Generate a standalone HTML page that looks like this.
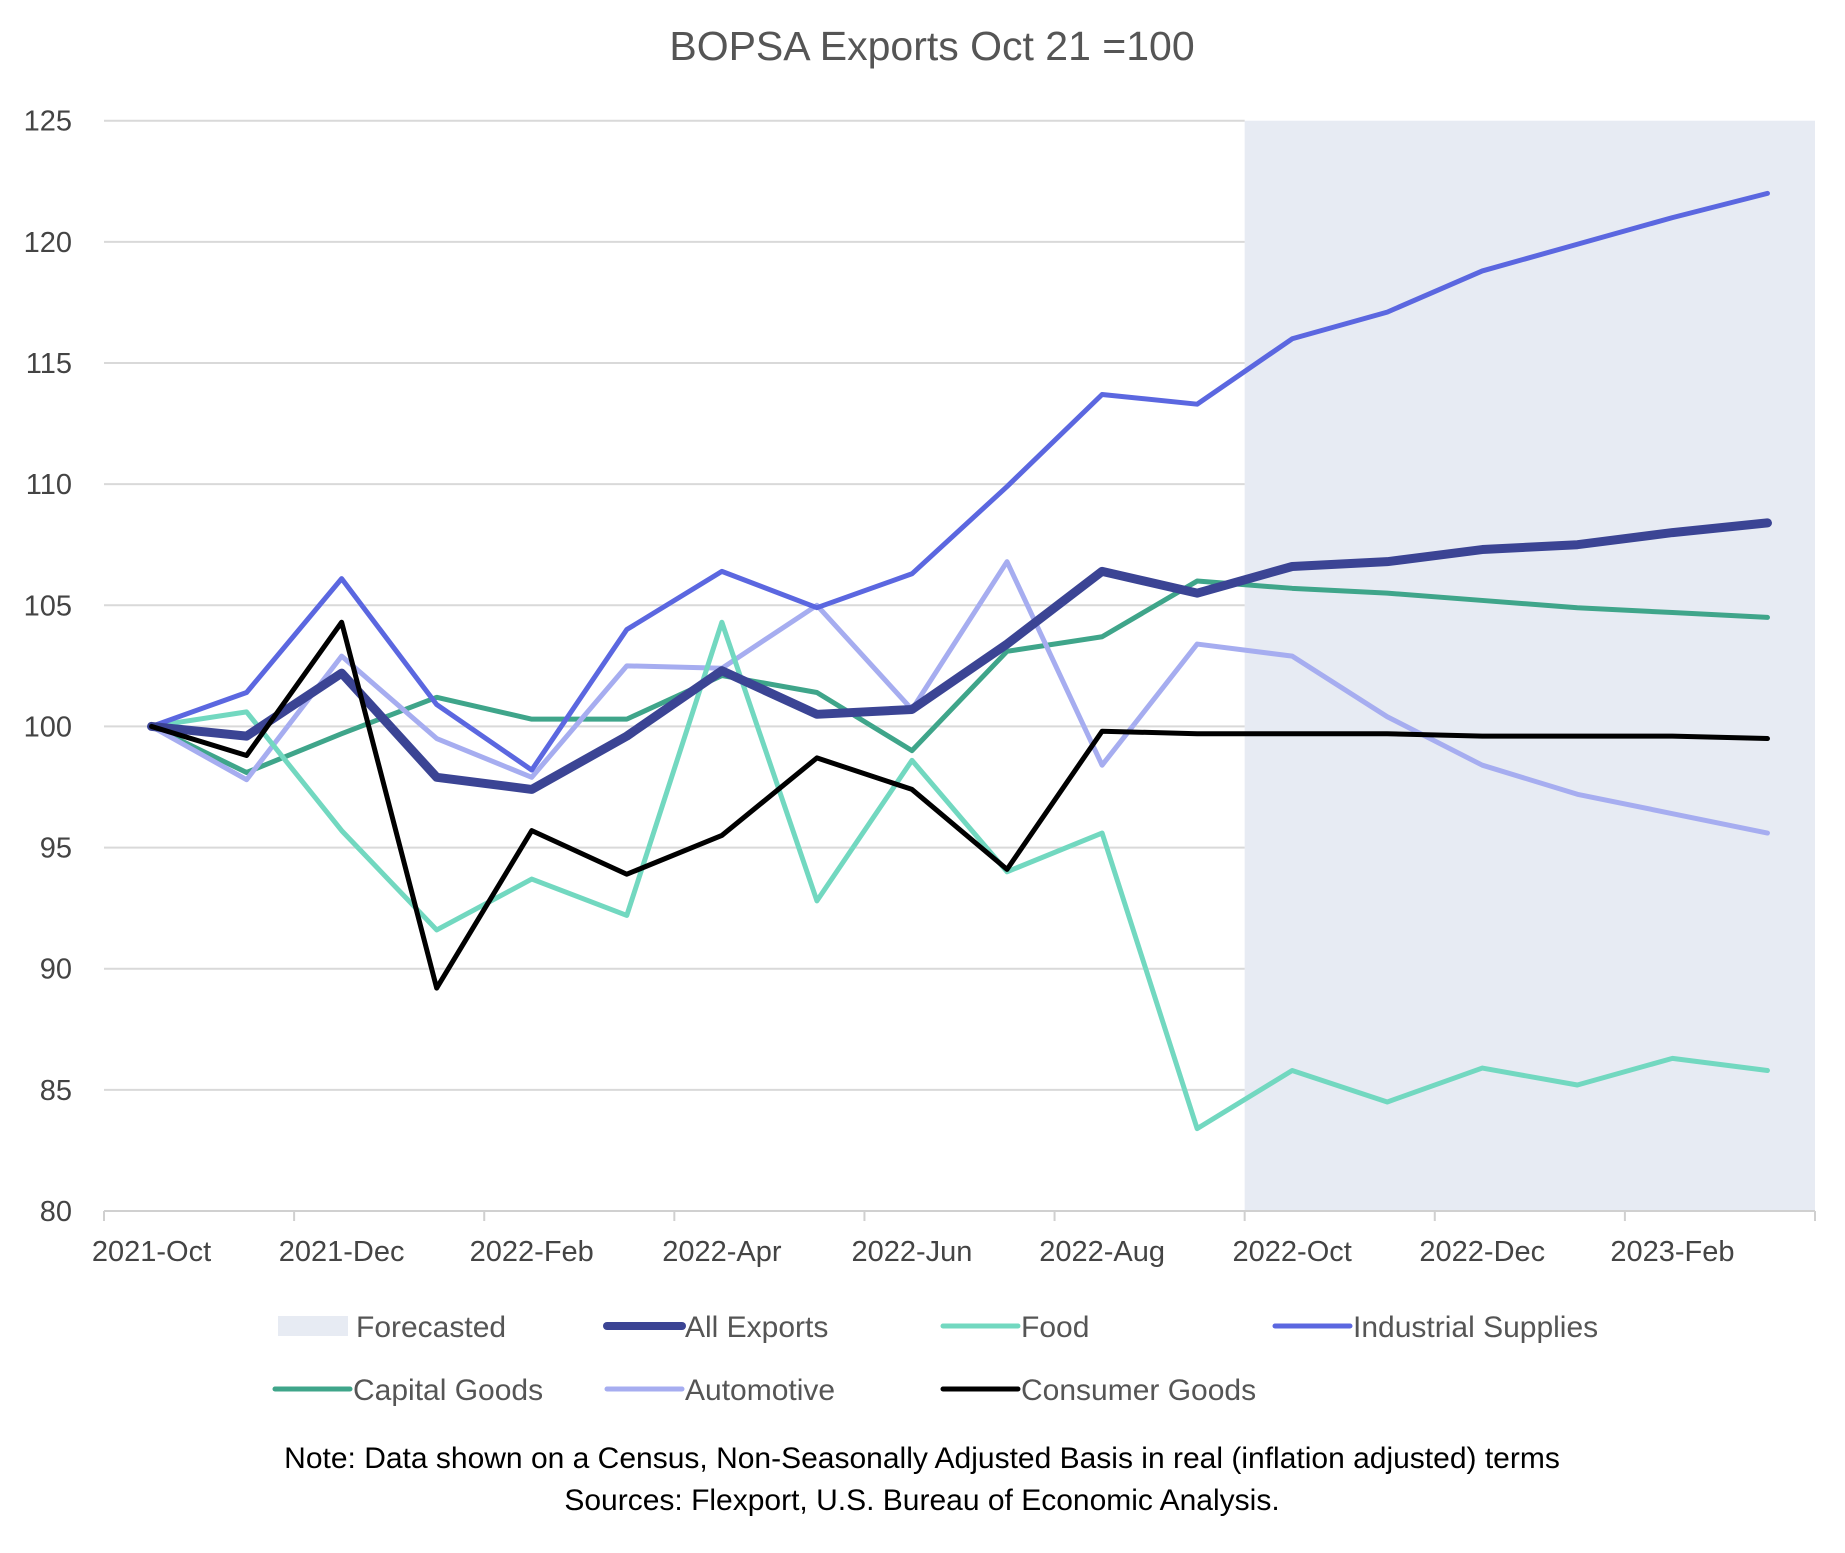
<!DOCTYPE html>
<html><head><meta charset="utf-8"><style>
html,body{margin:0;padding:0;background:#fff;}
svg{display:block;font-family:"Liberation Sans",sans-serif;}
</style></head><body>
<svg id="chart" width="1845" height="1553" viewBox="0 0 1845 1553">
<text x="932" y="60" text-anchor="middle" font-size="41" fill="#555">BOPSA Exports Oct 21 =100</text>
<g id="plot"></g>
<g id="legend"></g>
<text x="922" y="1468" text-anchor="middle" font-size="30" fill="#000">Note: Data shown on a Census, Non-Seasonally Adjusted Basis in real (inflation adjusted) terms</text>
<text x="922" y="1510" text-anchor="middle" font-size="30" fill="#000">Sources: Flexport, U.S. Bureau of Economic Analysis.</text>
</svg>
<script>
const categories=["2021-Oct","2021-Nov","2021-Dec","2022-Jan","2022-Feb","2022-Mar","2022-Apr","2022-May","2022-Jun","2022-Jul","2022-Aug","2022-Sep","2022-Oct","2022-Nov","2022-Dec","2023-Jan","2023-Feb","2023-Mar"];
const yTicks=[80,85,90,95,100,105,110,115,120,125];
const forecastStart=12;
const allExports=[100,99.6,102.2,97.9,97.4,99.6,102.3,100.5,100.7,103.4,106.4,105.5,106.6,106.8,107.3,107.5,108.0,108.4];
const food=[100,100.6,95.7,91.6,93.7,92.2,104.3,92.8,98.6,94.0,95.6,83.4,85.8,84.5,85.9,85.2,86.3,85.8];
const industrial=[100,101.4,106.1,100.9,98.2,104.0,106.4,104.9,106.3,109.9,113.7,113.3,116.0,117.1,118.8,119.9,121.0,122.0];
const capital=[100,98.1,99.7,101.2,100.3,100.3,102.1,101.4,99.0,103.1,103.7,106.0,105.7,105.5,105.2,104.9,104.7,104.5];
const automotive=[100,97.8,102.9,99.5,97.9,102.5,102.4,105.0,100.7,106.8,98.4,103.4,102.9,100.4,98.4,97.2,96.4,95.6];
const consumer=[100,98.8,104.3,89.2,95.7,93.9,95.5,98.7,97.4,94.1,99.8,99.7,99.7,99.7,99.6,99.6,99.6,99.5];

const NS="http://www.w3.org/2000/svg";
const L=104,R=1815,T=120.7,B=1211,yMin=80,yMax=125;
const band=(R-L)/categories.length;
const x=i=>L+band*(i+0.5);
const y=v=>B-(v-yMin)/(yMax-yMin)*(B-T);
const plot=document.getElementById('plot');
function mk(tag,attrs,parent){const e=document.createElementNS(NS,tag);for(const k in attrs)e.setAttribute(k,attrs[k]);parent.appendChild(e);return e;}

const fc=mk('rect',{x:L+band*forecastStart,y:T,width:R-(L+band*forecastStart),height:B-T,fill:'#e7ebf3'},plot);



yTicks.forEach(v=>{
  if(v>yMin){
    const g=mk('line',{x1:L,x2:L+band*forecastStart,y1:y(v),y2:y(v),stroke:'#d9d9d9','stroke-width':2},plot);
    
    
  }
  const t=mk('text',{x:72,y:y(v)+10,'text-anchor':'end','font-size':29,fill:'#444'},plot);
  t.textContent=v;
  
  
});
const ax=mk('line',{x1:L,x2:R,y1:B,y2:B,stroke:'#d0d0d0','stroke-width':2},plot);


for(let i=0;i<=categories.length;i+=2){
  const tk=mk('line',{x1:L+band*i,x2:L+band*i,y1:B,y2:B+10,stroke:'#d0d0d0','stroke-width':2},plot);
  
  
}
categories.forEach((c,i)=>{
  if(i%2)return;
  const t=mk('text',{x:x(i),y:B+50,'text-anchor':'middle','font-size':29,fill:'#444'},plot);
  t.textContent=c;
  
  
});

const series=[
 {name:'capital-goods',data:capital,color:'#3fa58a',w:5},
 {name:'automotive',data:automotive,color:'#a6adf0',w:5},
 {name:'food',data:food,color:'#72d8c0',w:5},
 {name:'industrial-supplies',data:industrial,color:'#5b67e0',w:5},
 {name:'all-exports',data:allExports,color:'#3b4494',w:9},
 {name:'consumer-goods',data:consumer,color:'#000000',w:5}
];
series.forEach(s=>{
  const p=mk('polyline',{points:s.data.map((v,i)=>x(i)+','+y(v)).join(' '),fill:'none',stroke:s.color,'stroke-width':s.w,'stroke-linejoin':'round','stroke-linecap':'round'},plot);
  
  
});

const legend=document.getElementById('legend');
const items=[
 {label:'Forecasted',color:'#e7ebf3',rect:true,x:278,y:1326},
 {label:'All Exports',color:'#3b4494',w:8,x:607,y:1326},
 {label:'Food',color:'#72d8c0',w:5,x:943,y:1326},
 {label:'Industrial Supplies',color:'#5b67e0',w:5,x:1275,y:1326},
 {label:'Capital Goods',color:'#3fa58a',w:5,x:275,y:1389},
 {label:'Automotive',color:'#a6adf0',w:5,x:607,y:1389},
 {label:'Consumer Goods',color:'#000000',w:5,x:943,y:1389}
];
items.forEach(it=>{
  const g=mk('g',{},legend);
  
  
  if(it.rect) mk('rect',{x:it.x,y:it.y-10,width:70,height:20,fill:it.color},g);
  else mk('line',{x1:it.x,x2:it.x+75,y1:it.y,y2:it.y,stroke:it.color,'stroke-width':it.w,'stroke-linecap':'round'},g);
  const t=mk('text',{x:it.x+78,y:it.y+11,'font-size':30,fill:'#555'},g);
  t.textContent=it.label;
});
</script>
</body></html>
